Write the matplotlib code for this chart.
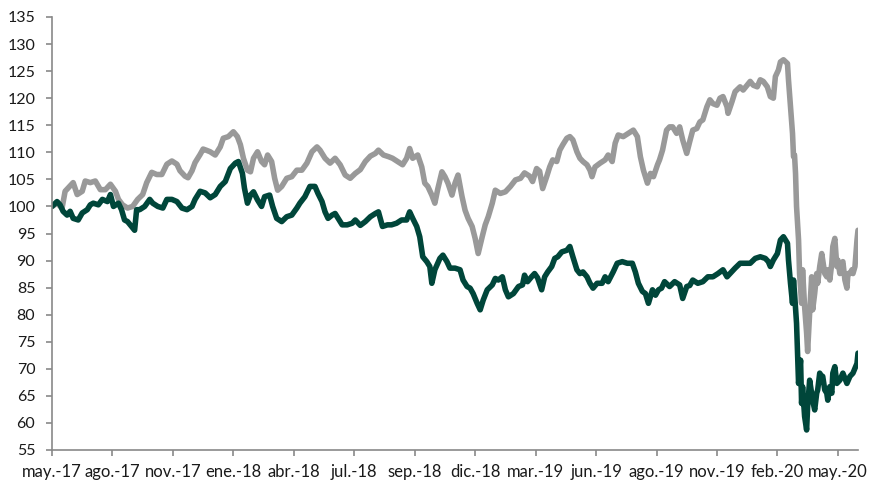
import matplotlib
matplotlib.use("Agg")
import matplotlib.pyplot as plt

plt.rcParams['font.family'] = ['Lato', 'DejaVu Sans']

# x = trading-day index since start of series
gray_x = [0, 5, 10, 13, 16, 21, 25, 30, 33, 38, 43, 48, 53, 58, 63, 66, 70, 75, 80, 85,
          90, 94, 99, 104, 109, 114, 119, 124, 127, 132, 135, 139, 142, 147, 150, 153, 157, 162, 167, 170,
          175, 180, 184, 187, 190, 194, 197, 200, 204, 208, 211, 214, 218, 221, 224, 228, 233, 238, 243, 248,
          253, 258, 263, 266, 271, 276, 281, 286, 291, 296, 301, 306, 311, 316, 321, 324, 329, 334, 338, 343,
          348, 352, 355, 358, 363, 367, 370, 373, 377, 380, 383, 387, 390, 393, 397, 400, 403, 407, 410, 413,
          417, 420, 423, 427, 430, 433, 437, 440, 445, 450, 455, 460, 465, 469, 474, 477, 481, 484, 487, 491,
          494, 497, 501, 504, 507, 511, 514, 517, 521, 524, 527, 531, 534, 536, 539, 544, 549, 552, 556, 559,
          562, 567, 572, 577, 581, 584, 587, 591, 594, 597, 601, 603, 606, 610, 613, 616, 620, 623, 626, 630,
          633, 636, 640, 643, 646, 650, 653, 656, 660, 663, 666, 670, 671, 675, 678, 683, 686, 690, 693, 696,
          700, 703, 706, 710, 713, 716, 718, 721, 723, 726, 730, 731, 733, 735, 736, 737, 738, 739, 741, 742,
          744, 745, 747, 749, 750, 752, 754, 755, 757, 759, 760, 762, 764, 765, 767, 769, 770, 772, 774, 775,
          777, 779, 780, 782, 784, 785, 787, 789, 790, 792, 794, 795, 797, 799, 800]
gray_y = [100.0, 100.6, 99.7, 102.8, 103.4, 104.4, 102.2, 102.8, 104.7, 104.4, 104.7, 103.1, 103.1, 104.1, 102.8, 101.3, 100.3, 99.7, 100.0, 101.3,
          102.2, 104.4, 106.3, 105.9, 105.9, 107.8, 108.4, 107.8, 106.6, 105.6, 105.3, 106.6, 108.1, 109.6, 110.6, 110.4, 110.1, 109.5, 111.0, 112.6,
          112.9, 113.8, 112.9, 111.4, 108.9, 106.7, 106.4, 108.9, 110.1, 108.3, 107.7, 109.5, 108.3, 105.2, 103.0, 103.7, 105.2, 105.5, 106.7, 106.7,
          108.0, 110.1, 111.0, 110.4, 108.9, 108.0, 108.9, 107.7, 105.8, 105.2, 106.1, 106.8, 108.3, 109.3, 109.8, 110.4, 109.5, 109.2, 108.9, 108.3,
          107.7, 108.9, 110.7, 108.9, 109.5, 107.3, 104.3, 103.7, 102.1, 100.6, 103.3, 106.4, 105.5, 104.3, 102.1, 104.3, 105.8, 101.8, 99.3, 97.8,
          96.3, 94.1, 91.3, 94.4, 96.6, 98.1, 100.6, 103.0, 102.4, 102.7, 103.7, 104.9, 105.2, 106.2, 105.6, 104.6, 107.0, 106.5, 103.3, 105.5,
          107.3, 108.6, 108.3, 110.4, 111.4, 112.6, 112.9, 112.3, 110.1, 108.9, 108.3, 107.7, 106.7, 105.5, 107.3, 108.0, 108.6, 109.5, 108.3, 111.7,
          113.2, 112.9, 113.5, 114.1, 112.9, 109.2, 106.7, 104.3, 106.1, 105.5, 107.7, 108.6, 110.4, 114.1, 114.7, 114.7, 113.5, 114.7, 112.3, 109.8,
          112.0, 114.1, 114.4, 115.6, 116.0, 118.4, 119.7, 119.0, 118.7, 120.0, 120.3, 118.4, 117.2, 119.4, 121.2, 122.1, 121.5, 122.4, 123.1, 122.4,
          122.1, 123.4, 123.1, 122.1, 120.3, 120.0, 124.0, 125.2, 126.7, 127.1, 126.4, 123.4, 118.4, 113.5, 109.2, 109.5, 106.1, 100.0, 93.8, 87.6,
          82.1, 88.3, 81.5, 76.6, 73.2, 80.3, 87.0, 80.9, 83.9, 87.6, 85.8, 88.9, 91.3, 90.1, 87.6, 87.0, 88.3, 86.4, 89.5, 92.6,
          94.1, 88.9, 90.1, 87.6, 89.5, 89.8, 86.4, 84.9, 87.6, 87.6, 88.3, 87.6, 88.9, 93.8, 95.6]

green_x = [0, 5, 8, 11, 15, 18, 21, 26, 30, 35, 38, 41, 46, 50, 55, 58, 61, 66, 69, 72,
           75, 79, 82, 84, 87, 92, 97, 100, 105, 110, 114, 119, 124, 129, 134, 139, 142, 147, 152, 157,
           162, 167, 172, 177, 182, 185, 189, 191, 194, 197, 200, 204, 208, 211, 216, 219, 223, 228, 233, 238,
           243, 246, 251, 256, 261, 264, 268, 271, 274, 278, 281, 284, 288, 293, 298, 301, 306, 311, 316, 321,
           324, 328, 333, 337, 342, 347, 352, 355, 358, 362, 365, 368, 372, 375, 377, 380, 385, 388, 392, 395,
           400, 405, 408, 412, 415, 418, 422, 425, 428, 432, 437, 440, 443, 447, 450, 453, 458, 463, 467, 469,
           472, 476, 479, 482, 486, 489, 492, 496, 499, 502, 506, 511, 514, 517, 521, 524, 527, 531, 534, 537,
           541, 546, 549, 552, 557, 561, 566, 571, 576, 579, 582, 586, 589, 592, 596, 599, 602, 605, 608, 613,
           618, 623, 626, 630, 633, 636, 641, 646, 651, 656, 661, 666, 670, 673, 678, 683, 688, 693, 698, 703,
           708, 711, 713, 716, 720, 723, 726, 730, 731, 733, 735, 736, 737, 739, 740, 741, 743, 744, 745, 747,
           749, 750, 752, 754, 755, 757, 759, 760, 762, 764, 765, 767, 769, 770, 772, 774, 775, 777, 779, 782,
           785, 789, 792, 795, 799, 800]
green_y = [100.0, 100.9, 100.3, 99.1, 98.4, 99.1, 97.8, 97.5, 98.8, 99.4, 100.3, 100.6, 100.3, 101.3, 100.9, 102.2, 100.0, 100.6, 99.4, 97.5,
           97.2, 96.3, 95.6, 99.4, 99.4, 100.0, 101.3, 100.6, 100.0, 99.7, 101.3, 101.3, 100.9, 99.7, 99.4, 100.0, 101.3, 102.8, 102.5, 101.6,
           102.2, 103.7, 104.6, 107.0, 108.0, 108.3, 106.1, 103.4, 100.6, 102.1, 102.7, 101.2, 100.0, 101.8, 102.1, 100.0, 97.8, 97.2, 98.1, 98.4,
           99.7, 100.6, 101.8, 103.7, 103.7, 102.4, 100.9, 99.0, 97.8, 98.4, 98.7, 97.8, 96.6, 96.6, 96.9, 97.5, 96.5, 97.2, 98.1, 98.7,
           99.0, 96.3, 96.6, 96.6, 96.9, 97.5, 97.5, 99.0, 97.8, 96.3, 94.4, 90.7, 89.8, 88.9, 85.8, 88.3, 90.4, 91.0, 89.8, 88.6,
           88.6, 88.3, 86.4, 85.2, 84.9, 83.9, 82.1, 80.9, 82.7, 84.6, 85.5, 86.7, 86.4, 87.0, 84.6, 83.3, 83.9, 85.2, 85.5, 87.3,
           86.1, 87.0, 87.6, 86.8, 84.6, 87.0, 87.9, 88.9, 90.4, 90.7, 91.6, 91.9, 92.6, 90.7, 88.3, 87.6, 87.9, 87.0, 85.8, 84.9,
           85.8, 85.8, 87.0, 86.1, 87.9, 89.5, 89.8, 89.5, 89.5, 87.9, 85.8, 84.3, 83.9, 82.1, 84.6, 83.6, 84.6, 84.9, 86.1, 85.2,
           86.1, 85.5, 83.0, 85.2, 85.4, 86.4, 85.8, 86.1, 87.0, 87.0, 87.6, 88.3, 87.0, 87.6, 88.6, 89.5, 89.5, 89.5, 90.4, 90.7,
           90.4, 89.8, 88.9, 90.1, 91.3, 93.8, 94.4, 93.2, 90.1, 85.8, 82.1, 86.4, 84.0, 78.4, 72.9, 67.3, 71.6, 63.6, 66.7, 61.2,
           58.7, 63.0, 67.9, 65.5, 64.2, 62.4, 65.5, 66.1, 69.2, 68.6, 68.6, 66.1, 65.5, 64.2, 66.7, 65.5, 69.2, 70.4, 67.3, 67.9,
           69.2, 67.3, 68.6, 69.2, 71.0, 72.9]

tick_idx = [0, 60, 120, 180, 240, 300, 360, 420, 480, 540, 600, 660, 720, 780]
tick_labels = ["may.-17", "ago.-17", "nov.-17", "ene.-18", "abr.-18", "jul.-18", "sep.-18",
               "dic.-18", "mar.-19", "jun.-19", "ago.-19", "nov.-19", "feb.-20", "may.-20"]

fig = plt.figure(figsize=(8.71, 4.82), dpi=100)
ax = fig.add_axes([52/871, 32/482, 806/871, 433/482])

ax.plot(gray_x, gray_y, color='#999999', lw=4.0, solid_joinstyle='round', solid_capstyle='round')
ax.plot(green_x, green_y, color='#00463A', lw=4.0, solid_joinstyle='round', solid_capstyle='round')

ax.set_xlim(0, 800)
ax.set_ylim(55, 135)
ax.set_yticks(range(55, 136, 5))
ax.set_xticks(tick_idx)
ax.set_xticklabels(tick_labels)

for s in ['top', 'right']:
    ax.spines[s].set_visible(False)
for s in ['left', 'bottom']:
    ax.spines[s].set_color('#898989')
    ax.spines[s].set_linewidth(1.2)

ax.tick_params(axis='y', direction='out', length=4, width=1.2, color='#898989',
               labelsize=11.5, labelcolor='#1a1a1a', pad=8)
ax.tick_params(axis='x', direction='out', length=4, width=1.2, color='#898989',
               labelsize=12, labelcolor='#1a1a1a', pad=6)

fig.savefig('out.png', dpi=100)
